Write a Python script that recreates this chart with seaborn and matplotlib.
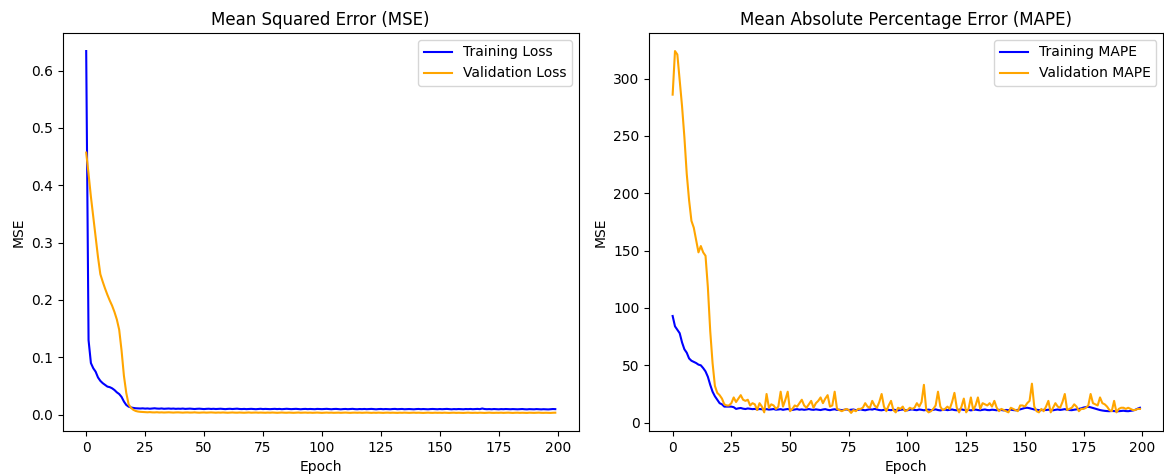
import numpy as np
import matplotlib
matplotlib.use("Agg")
import matplotlib.pyplot as plt
import seaborn as sns

# ---- values (one value per epoch) ----
train_loss = [
    0.634, 0.130, 0.090, 0.081, 0.075, 0.065, 0.059, 0.055, 0.052, 0.049,
    0.048, 0.046, 0.043, 0.039, 0.036, 0.031, 0.023, 0.017, 0.014, 0.0127,
    0.0118, 0.0112, 0.0110, 0.0108, 0.0111, 0.0106, 0.0109, 0.0104, 0.0108, 0.0112,
    0.0107, 0.0105, 0.0109, 0.0103, 0.0106, 0.0108, 0.0104, 0.0107, 0.0102, 0.0105,
    0.0103, 0.0107, 0.0101, 0.0104, 0.0106, 0.0102, 0.0099, 0.0103, 0.0105, 0.0101,
    0.0098, 0.0102, 0.0104, 0.0100, 0.0103, 0.0099, 0.0101, 0.0104, 0.0100, 0.0097,
    0.0101, 0.0103, 0.0099, 0.0102, 0.0105, 0.0100, 0.0098, 0.0101, 0.0097, 0.0100,
    0.0102, 0.0099, 0.0096, 0.0100, 0.0103, 0.0098, 0.0101, 0.0099, 0.0097, 0.0100,
    0.0102, 0.0098, 0.0101, 0.0096, 0.0099, 0.0103, 0.0100, 0.0097, 0.0099, 0.0102,
    0.0098, 0.0095, 0.0099, 0.0101, 0.0097, 0.0100, 0.0098, 0.0096, 0.0101, 0.0099,
    0.0097, 0.0100, 0.0102, 0.0098, 0.0095, 0.0099, 0.0101, 0.0097, 0.0094, 0.0098,
    0.0100, 0.0096, 0.0099, 0.0102, 0.0097, 0.0095, 0.0099, 0.0097, 0.0100, 0.0096,
    0.0098, 0.0101, 0.0097, 0.0094, 0.0098, 0.0100, 0.0096, 0.0099, 0.0097, 0.0095,
    0.0099, 0.0101, 0.0096, 0.0098, 0.0100, 0.0095, 0.0097, 0.0099, 0.0096, 0.0094,
    0.0098, 0.0100, 0.0096, 0.0099, 0.0097, 0.0094, 0.0098, 0.0100, 0.0097, 0.0095,
    0.0099, 0.0096, 0.0098, 0.0101, 0.0097, 0.0094, 0.0098, 0.0096, 0.0099, 0.0097,
    0.0095, 0.0099, 0.0097, 0.0100, 0.0096, 0.0098, 0.0101, 0.0097, 0.0108, 0.0099,
    0.0096, 0.0098, 0.0095, 0.0099, 0.0097, 0.0094, 0.0098, 0.0096, 0.0099, 0.0097,
    0.0095, 0.0098, 0.0096, 0.0094, 0.0097, 0.0099, 0.0095, 0.0093, 0.0097, 0.0096,
    0.0094, 0.0098, 0.0095, 0.0093, 0.0096, 0.0094, 0.0092, 0.0095, 0.0099, 0.0097,
]

val_loss = [
    0.457, 0.420, 0.380, 0.345, 0.310, 0.275, 0.245, 0.232, 0.220, 0.209,
    0.199, 0.190, 0.179, 0.166, 0.148, 0.112, 0.068, 0.038, 0.018, 0.012,
    0.0085, 0.0065, 0.0055, 0.0050, 0.0047,
    0.0044, 0.0042, 0.0045, 0.0041, 0.0040, 0.0043, 0.0039, 0.0041, 0.0038, 0.0040,
    0.0042, 0.0039, 0.0037, 0.0040, 0.0041, 0.0038, 0.0036, 0.0039, 0.0040, 0.0037,
    0.0038, 0.0041, 0.0037, 0.0035, 0.0038, 0.0039, 0.0036, 0.0038, 0.0040, 0.0037,
    0.0035, 0.0038, 0.0036, 0.0039, 0.0037, 0.0034, 0.0037, 0.0039, 0.0036, 0.0035,
    0.0038, 0.0036, 0.0034, 0.0037, 0.0039, 0.0035, 0.0036, 0.0038, 0.0035, 0.0037,
    0.0036, 0.0034, 0.0037, 0.0035, 0.0038, 0.0036, 0.0033, 0.0036, 0.0038, 0.0035,
    0.0034, 0.0037, 0.0035, 0.0033, 0.0036, 0.0038, 0.0034, 0.0035, 0.0037, 0.0034,
    0.0036, 0.0033, 0.0035, 0.0037, 0.0034, 0.0032, 0.0035, 0.0037, 0.0034, 0.0036,
    0.0033, 0.0035, 0.0036, 0.0033, 0.0035, 0.0037, 0.0034, 0.0032, 0.0035, 0.0036,
    0.0034, 0.0036, 0.0033, 0.0035, 0.0037, 0.0034, 0.0032, 0.0035, 0.0033, 0.0036,
    0.0034, 0.0032, 0.0035, 0.0036, 0.0033, 0.0035, 0.0034, 0.0032, 0.0035, 0.0033,
    0.0036, 0.0034, 0.0032, 0.0034, 0.0036, 0.0033, 0.0035, 0.0033, 0.0031, 0.0034,
    0.0036, 0.0033, 0.0032, 0.0035, 0.0033, 0.0034, 0.0032, 0.0035, 0.0033, 0.0031,
    0.0034, 0.0035, 0.0032, 0.0034, 0.0033, 0.0031, 0.0034, 0.0036, 0.0033, 0.0032,
    0.0034, 0.0032, 0.0035, 0.0033, 0.0031, 0.0034, 0.0036, 0.0033, 0.0032, 0.0034,
    0.0033, 0.0035, 0.0032, 0.0034, 0.0036, 0.0033, 0.0031, 0.0034, 0.0035, 0.0032,
    0.0034, 0.0033, 0.0031, 0.0035, 0.0033, 0.0032, 0.0034, 0.0036, 0.0033, 0.0032,
    0.0034, 0.0033, 0.0031, 0.0034, 0.0035,
]

train_mape = [
    93, 84, 81, 78, 70, 64, 61, 56, 54, 53,
    52, 50.6, 50, 47.6, 44.7, 40, 33, 27, 23, 20,
    17, 16, 14, 14, 14, 14, 13.5, 12,
    12.5, 12.8, 12.2, 11.9, 12.4, 12.1, 11.8, 12.0, 11.6, 11.9, 11.7, 11.5,
    11.8, 11.4, 11.6, 11.9, 11.3, 11.5, 11.8, 11.2, 11.6, 11.9,
    11.4, 11.1, 11.5, 11.8, 11.3, 11.6, 11.2, 11.5, 11.9, 11.4,
    11.2, 11.6, 11.3, 11.0, 11.5, 11.8, 11.2, 10.9, 11.4, 11.7,
    11.1, 11.3, 10.9, 11.2, 11.6, 11.0, 11.3, 11.5, 10.9, 11.2,
    11.6, 11.1, 10.8, 11.3, 11.7, 11.4, 12.0, 11.5, 11.0, 10.8,
    11.2, 11.6, 11.1, 10.9, 11.4, 11.0, 10.7, 11.2, 11.5, 11.0,
    10.8, 11.3, 11.6, 11.1, 10.9, 11.5, 11.2, 10.8, 11.1, 11.4,
    10.9, 11.2, 11.6, 11.0, 10.7, 11.1, 11.4, 10.9, 11.2, 11.5,
    11.0, 10.8, 11.3, 11.6, 11.1, 10.9, 11.2, 10.7, 11.1, 11.4,
    11.0, 10.8, 11.2, 11.5, 11.0, 10.9, 11.3, 11.1, 10.8, 11.2,
    11.0, 10.7, 11.1, 10.9, 11.3, 11.0, 10.8, 11.2, 11.6, 12.2,
    12.8, 13.0, 12.6, 12.0, 11.5, 11.2, 11.0, 10.9, 11.2, 11.0,
    11.3, 11.0, 10.8, 11.2, 11.5, 11.1, 11.4, 11.8, 11.2, 11.0,
    10.9, 11.3, 11.6, 12.0, 12.5, 13.2, 13.6, 13.8, 13.4, 12.8,
    12.2, 11.6, 11.0, 10.6, 10.3, 10.1, 10.0, 10.2, 10.1, 9.9,
    10.0, 10.2, 10.4, 10.1, 10.0, 10.3, 10.6, 11.2, 12.2, 13.0,
]

val_mape = [
    286, 324, 321, 299, 276, 249, 217, 194, 176, 170,
    159, 148.5, 154, 148.5, 145.5, 118, 80, 52, 32, 26,
    24, 21, 16, 15, 15, 17, 22, 18, 21, 24,
    20, 19, 20, 15, 17, 16, 11, 17, 14, 9,
    25, 13, 16, 15, 12, 14, 27, 14, 20, 27,
    10, 12, 15, 14, 17, 20, 15, 13, 16, 19,
    13, 17, 19, 22, 17, 21, 24, 14, 15, 27,
    12, 11, 10, 11, 12, 11, 8.5, 11, 10, 12,
    12, 13, 17, 14, 13, 19, 15, 13, 18, 25,
    14, 10, 15, 19, 11, 9, 13, 12, 14, 10,
    11, 13, 12, 13, 17, 14, 18, 33, 11, 9,
    10, 12, 15, 27, 14, 11, 12, 14, 12, 18,
    26, 13, 9, 14, 21, 9, 12, 22, 11, 15,
    22, 12, 17, 16, 15, 17, 14, 19, 13, 10,
    12, 11, 10, 9, 13, 12, 11, 10, 15, 15,
    14, 17, 19, 34, 14, 10, 9, 12, 10, 14,
    19, 9, 13, 17, 14, 13, 18, 25, 11, 12,
    13, 16, 14, 10, 12, 12, 13, 15, 25, 17,
    16, 15, 22, 17, 16, 14, 11, 10, 19, 9,
    12, 13, 13, 12, 13, 12, 11, 11, 12, 12,
]


def draw_series(ax, values, color, label):
    """Plot one history curve against its epoch index."""
    sns.lineplot(x=np.arange(len(values)), y=values, ax=ax, color=color, label=label)


def plot_history():
    fig = plt.figure(figsize=(11.64, 4.75), dpi=100)
    ax1 = fig.add_axes([0.0539, 0.0926, 0.4433, 0.838])
    ax2 = fig.add_axes([0.5578, 0.0926, 0.4416, 0.838])

    # MSE panel
    draw_series(ax1, train_loss, "blue", "Training Loss")
    draw_series(ax1, val_loss, "orange", "Validation Loss")
    ax1.set_title("Mean Squared Error (MSE)")
    ax1.set_xlabel("Epoch")
    ax1.set_ylabel("MSE")
    ax1.legend(loc="upper right")

    # MAPE panel
    draw_series(ax2, train_mape, "blue", "Training MAPE")
    draw_series(ax2, val_mape, "orange", "Validation MAPE")
    ax2.set_title("Mean Absolute Percentage Error (MAPE)")
    ax2.set_xlabel("Epoch")
    ax2.set_ylabel("MSE")
    ax2.legend(loc="upper right")

    fig.savefig("out.png", dpi=100)
    return fig


if __name__ == "__main__":
    plot_history()
